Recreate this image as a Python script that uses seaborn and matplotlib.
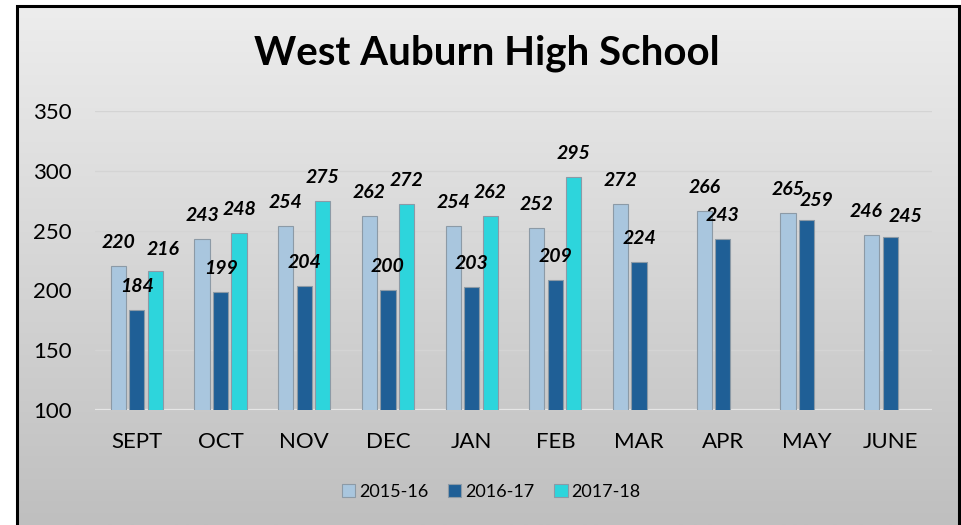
import numpy as np
import pandas as pd
import matplotlib
matplotlib.use("Agg")
import matplotlib.pyplot as plt
import seaborn as sns
from matplotlib.patches import Rectangle
from matplotlib.colors import LinearSegmentedColormap

months = ["SEPT", "OCT", "NOV", "DEC", "JAN", "FEB", "MAR", "APR", "MAY", "JUNE"]
series_names = ["2015-16", "2016-17", "2017-18"]
y2015 = [220, 243, 254, 262, 254, 252, 272, 266, 265, 246]
y2016 = [184, 199, 204, 200, 203, 209, 224, 243, 259, 245]
y2017 = [216, 248, 275, 272, 262, 295, None, None, None, None]
yticks = [100, 150, 200, 250, 300, 350]
title = "West Auburn High School"
colors = ["#a9c6de", "#1f5f96", "#2dd5dc"]

# label nudges (pixels) where labels would collide, as in the reference
label_shift = {("2017-18", "SEPT"): (8, -2),
               ("2016-17", "MAY"): (10, -4), ("2015-16", "JUNE"): (-6, 0),
               ("2016-17", "JUNE"): (15, -3)}

rows = []
for name, vals in zip(series_names, [y2015, y2016, y2017]):
    for m, v in zip(months, vals):
        if v is not None:
            rows.append({"month": m, "series": name, "value": v})
df = pd.DataFrame(rows)

sns.set_theme(style="white")
plt.rcParams["font.family"] = ["Lato", "DejaVu Sans"]
plt.rcParams["text.color"] = "black"

W, H = 961, 525
fig = plt.figure(figsize=(W / 100, H / 100), dpi=100)
fig.patch.set_facecolor("white")

# gradient background inside frame
bg = fig.add_axes([17 / W, 0, (959 - 17) / W, (H - 6) / H], zorder=-10)
grad = np.linspace(0, 1, 256).reshape(-1, 1)
cmap = LinearSegmentedColormap.from_list("g", ["#ededed", "#bfbfbf"])
bg.imshow(grad, aspect="auto", cmap=cmap, extent=[0, 1, 0, 1], origin="upper")
bg.set_axis_off()
fig.patches.append(Rectangle((17 / W, -0.01), (959 - 17) / W, (H - 6) / H + 0.01,
                             transform=fig.transFigure, fill=False, edgecolor="black",
                             linewidth=2.2, zorder=5))

ax = fig.add_axes([95 / W, 115 / H, (932 - 95) / W, 299 / H])
ax.patch.set_alpha(0)
sns.barplot(data=df, x="month", y="value", hue="series", order=months,
            hue_order=series_names, palette=colors, saturation=1, width=0.663,
            gap=0.18, edgecolor="#8c9aa6", linewidth=0.8, ax=ax, legend=True,
            zorder=3)

ax.set_ylim(100, 350)
ax.set_yticks(yticks)
ax.set_xlim(-0.5, len(months) - 0.5)
ax.yaxis.grid(True, color="#d4d4d4", linewidth=1.0, zorder=0)
ax.set_axisbelow(True)
for s in ax.spines.values():
    s.set_visible(False)
ax.axhline(100, color="#e6e6e6", linewidth=1.6, zorder=2)
ax.set_xlabel("")
ax.set_ylabel("")
ax.tick_params(axis="both", length=0, labelsize=16, colors="black")
ax.tick_params(axis="x", pad=16)
ax.tick_params(axis="y", pad=17)

for cont, name in zip(ax.containers, series_names):
    for bar, m in zip(cont, months):
        h = bar.get_height()
        if np.isnan(h) or h <= 0:
            continue
        dx, dy = label_shift.get((name, m), (0, 0))
        ax.annotate(f"{int(round(h))}", (bar.get_x() + bar.get_width() / 2, h),
                    xytext=(dx, 18 + dy), textcoords="offset pixels", ha="center",
                    va="baseline", fontsize=14, fontweight="bold", fontstyle="italic",
                    color="black", clip_on=False, zorder=6)

leg = ax.legend(loc="center", bbox_to_anchor=(491 / W, 1 - 492 / H),
                bbox_transform=fig.transFigure, ncol=3, frameon=False,
                fontsize=13, handlelength=0.75, handleheight=0.75, handletextpad=0.2,
                columnspacing=1.1)
for t in leg.get_texts():
    t.set_color("black")

fig.text(487 / W, 1 - 53 / H, title, ha="center", va="center", fontsize=29,
         fontweight="bold", color="black")

fig.savefig("out.png", dpi=100)
